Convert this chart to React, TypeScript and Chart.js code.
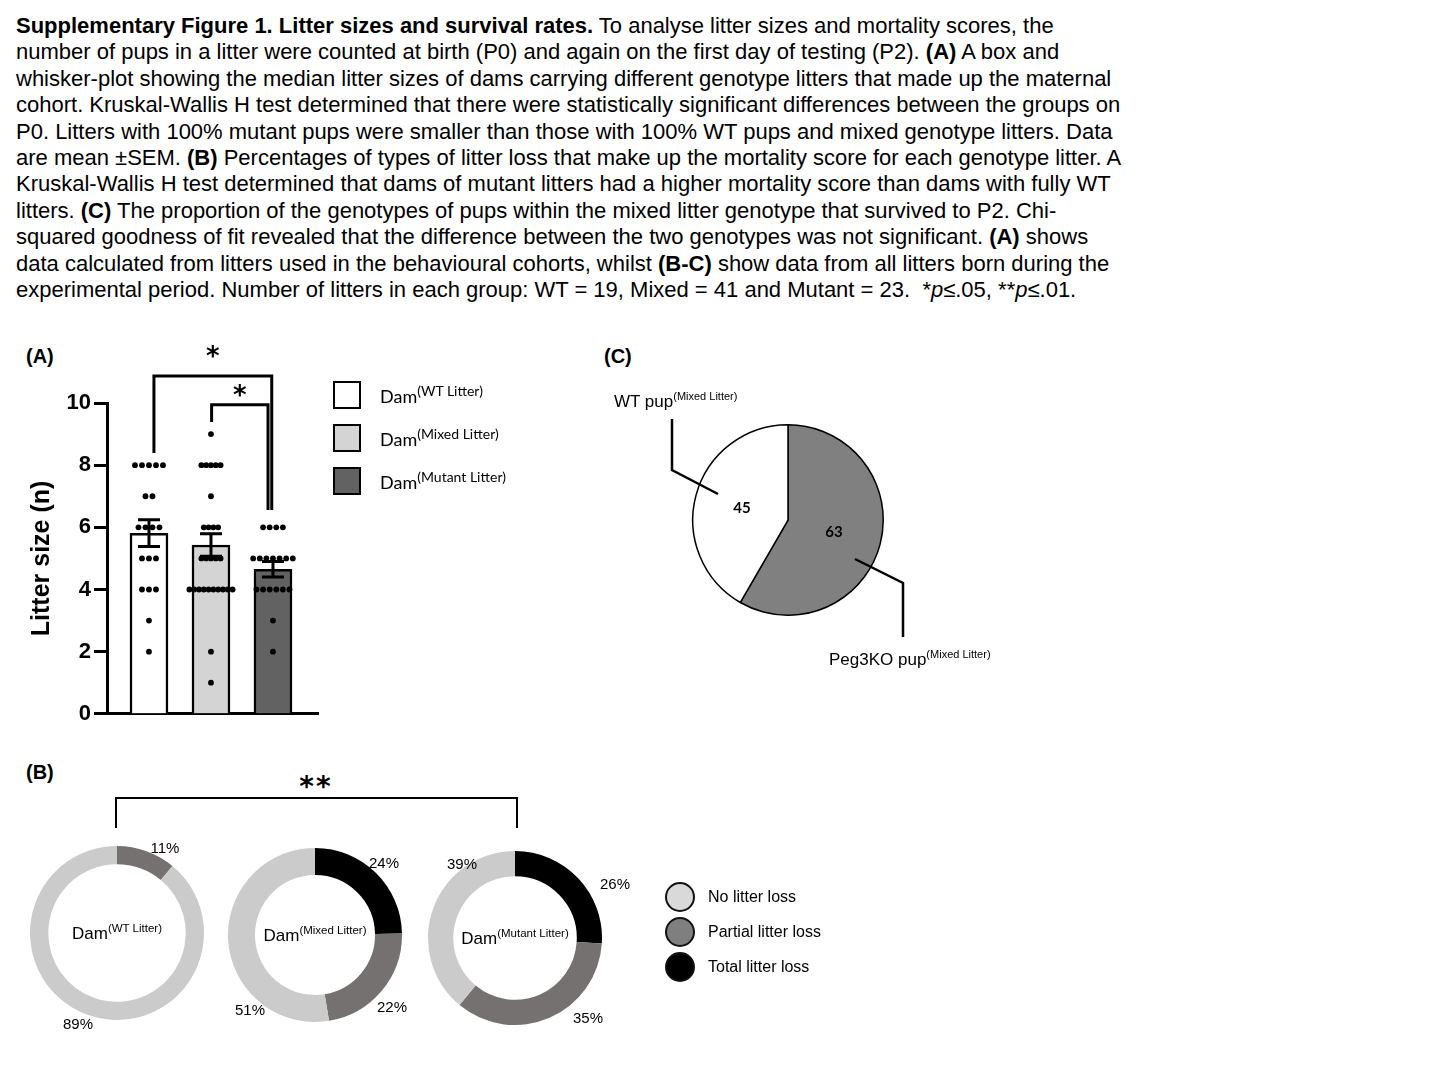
import React, { useEffect, useRef } from 'react';
import { Chart, registerables } from 'chart.js';

Chart.register(...registerables);

const SANS = '"Liberation Sans", Arial, Helvetica, sans-serif';
const CAL = 'Lato, "Open Sans", sans-serif';
const STAR = '"DejaVu Sans", sans-serif';

// ---------------- Panel A data ----------------
const groupNames = ['WT Litter', 'Mixed Litter', 'Mutant Litter'];
const groupMeans = [5.81, 5.43, 4.65];
const semLow = [5.38, 5.07, 4.4];
const semHigh = [6.24, 5.79, 4.9];
const wtLitterSizes = [8, 8, 8, 8, 8, 7, 7, 6, 6, 6, 6, 5, 5, 5, 4, 4, 4, 3, 2];
const mixedLitterSizes = [9, 8, 8, 8, 8, 8, 7, 6, 6, 6, 6, 5, 5, 5, 5, 5, 4, 4, 4, 4, 4, 4, 4, 4, 4, 4, 2, 1];
const mutantLitterSizes = [6, 6, 6, 6, 5, 5, 5, 5, 5, 5, 5, 4, 4, 4, 4, 4, 4, 3, 2];
const barColors = ['#ffffff', '#d4d4d4', '#626262'];
const yAxisTitle = 'Litter size (n)';
const yMin = 0;
const yMax = 10;
const yStep = 2;
// significance brackets (in axis units)
const bracketFrom = [0.08, 1.01];
const bracketTo = [1.98, 1.92];
const bracketTop = [10.87, 9.94];
const bracketLeftFoot = [8.39, 9.39];
const bracketRightFoot = [6.56, 6.56];
const bracketStarY = [11.7, 10.45];
const bracketLabels = ['*', '*'];

// layout for the dot rows (pixels between neighbouring dots of one row)
const dotSpacingPx = [7, 4.8, 6.6];
const xUnitPx = 62;

// ---------------- Panel B data ----------------
const lossTypes = ['Total litter loss', 'Partial litter loss', 'No litter loss'];
const lossColors = ['#000000', '#767171', '#cbcbcb'];
const legendLossOrder = [2, 1, 0];
const legendLossColors = ['#000000', '#7f7f7f', '#d9d9d9'];
const wtLoss = [0, 11, 89];
const mixedLoss = [24, 22, 51];
const mutantLoss = [26, 35, 39];

// ---------------- Panel C data ----------------
const pupGenotypes = ['Peg3KO pup', 'WT pup'];
const pupCounts = [63, 45];
const pupColors = ['#808080', '#ffffff'];

// ---------------- layout ----------------
const donutLayout = [
  { name: 'WT Litter', values: wtLoss, cx: 117, cy: 933, cutout: '79%', labelPos: [null, [165, 847], [78, 1023]] },
  { name: 'Mixed Litter', values: mixedLoss, cx: 315, cy: 935, cutout: '69%', labelPos: [[384, 862], [392, 1006], [250, 1009]] },
  { name: 'Mutant Litter', values: mutantLoss, cx: 515, cy: 938, cutout: '71%', labelPos: [[615, 883], [588, 1017], [462, 863]] },
];
const pieLeaders = [
  [[67, 39], [115, 63], [115, 117]],
  [[-70, -26], [-116, -50], [-116, -101]],
];

function spreadRow(values: number[], gi: number, spacing: number) {
  const counts: Record<string, number> = {};
  values.forEach((v) => (counts[v] = (counts[v] || 0) + 1));
  const seen: Record<string, number> = {};
  return values.map((v) => {
    const k = counts[v];
    const j = (seen[v] = seen[v] === undefined ? 0 : seen[v] + 1);
    return { x: gi + ((j - (k - 1) / 2) * spacing) / xUnitPx, y: v };
  });
}

const panelAPlugin = {
  id: 'panelAExtras',
  afterDatasetsDraw(chart: any) {
    const { ctx } = chart;
    const xs = chart.scales.x;
    const ys = chart.scales.y;
    ctx.save();
    ctx.strokeStyle = '#000';
    ctx.lineWidth = 3;
    for (let i = 0; i < groupMeans.length; i++) {
      const px = xs.getPixelForValue(i);
      const t = ys.getPixelForValue(semHigh[i]);
      const b = ys.getPixelForValue(semLow[i]);
      ctx.beginPath();
      ctx.moveTo(px, t);
      ctx.lineTo(px, b);
      ctx.moveTo(px - 11, t);
      ctx.lineTo(px + 11, t);
      ctx.moveTo(px - 11, b);
      ctx.lineTo(px + 11, b);
      ctx.stroke();
    }
    ctx.lineJoin = 'miter';
    for (let k = 0; k < bracketFrom.length; k++) {
      const x1 = xs.getPixelForValue(bracketFrom[k]);
      const x2 = xs.getPixelForValue(bracketTo[k]);
      const yt = ys.getPixelForValue(bracketTop[k]);
      ctx.beginPath();
      ctx.moveTo(x1, ys.getPixelForValue(bracketLeftFoot[k]));
      ctx.lineTo(x1, yt);
      ctx.lineTo(x2, yt);
      ctx.lineTo(x2, ys.getPixelForValue(bracketRightFoot[k]));
      ctx.stroke();
      ctx.fillStyle = '#000';
      ctx.font = `bold 26px ${STAR}`;
      ctx.textAlign = 'center';
      ctx.textBaseline = 'alphabetic';
      ctx.fillText(bracketLabels[k], (x1 + x2) / 2, ys.getPixelForValue(bracketStarY[k]) + 0.56 * 26);
    }
    ctx.restore();
  },
};

function makePanelA() {
  const groups = [wtLitterSizes, mixedLitterSizes, mutantLitterSizes];
  const scatterData = groups.flatMap((vals, gi) => spreadRow(vals, gi, dotSpacingPx[gi]));
  return {
    type: 'bar',
    data: {
      datasets: [
        {
          type: 'scatter',
          label: 'litters',
          data: scatterData,
          pointRadius: 2.9,
          pointBackgroundColor: '#000',
          pointBorderWidth: 0,
          order: 0,
        },
        {
          type: 'bar',
          label: 'mean',
          data: groupMeans.map((m, i) => ({ x: i, y: m })),
          backgroundColor: barColors,
          borderColor: '#000',
          borderWidth: 2.5,
          barThickness: 38,
          order: 1,
        },
      ],
    },
    options: {
      responsive: false,
      animation: false,
      events: [],
      layout: { padding: { top: 73, right: 22, left: 0, bottom: 0 } },
      plugins: { legend: { display: false }, tooltip: { enabled: false } },
      scales: {
        x: {
          type: 'linear',
          min: -0.677,
          max: 2.726,
          offset: false,
          ticks: { display: false },
          grid: { display: false, offset: false },
          border: { display: true, color: '#000', width: 3 },
          afterFit: (s: any) => {
            s.height = 16;
          },
        },
        y: {
          type: 'linear',
          min: yMin,
          max: yMax,
          ticks: {
            stepSize: yStep,
            color: '#000',
            padding: 3,
            font: { family: SANS, size: 22, weight: 'bold' },
          },
          grid: {
            display: true,
            drawOnChartArea: false,
            drawTicks: true,
            tickLength: 13,
            tickWidth: 3,
            tickColor: '#000',
          },
          border: { display: true, color: '#000', width: 3 },
          title: {
            display: true,
            text: yAxisTitle,
            color: '#000',
            font: { family: SANS, size: 25, weight: 'bold' },
            padding: { top: 27, bottom: 0 },
          },
          afterFit: (s: any) => {
            s.width = 107;
          },
        },
      },
    },
    plugins: [panelAPlugin],
  };
}

function makeDonut(values: number[], cutout: string) {
  return {
    type: 'doughnut',
    data: {
      labels: lossTypes,
      datasets: [{ data: values, backgroundColor: lossColors, borderWidth: 0 }],
    },
    options: {
      responsive: false,
      animation: false,
      events: [],
      cutout,
      rotation: 0,
      layout: { padding: 0 },
      plugins: { legend: { display: false }, tooltip: { enabled: false } },
    },
  };
}

const piePlugin = {
  id: 'pieExtras',
  afterDatasetsDraw(chart: any) {
    const { ctx } = chart;
    const meta = chart.getDatasetMeta(0);
    ctx.save();
    ctx.fillStyle = '#000';
    ctx.font = `bold 15px ${CAL}`;
    ctx.textAlign = 'center';
    ctx.textBaseline = 'middle';
    meta.data.forEach((arc: any, i: number) => {
      const p = arc.tooltipPosition();
      ctx.fillText(String(pupCounts[i]), p.x, p.y);
    });
    const cx = meta.data[0].x;
    const cy = meta.data[0].y;
    ctx.strokeStyle = '#000';
    ctx.lineWidth = 2.5;
    ctx.lineJoin = 'miter';
    pieLeaders.forEach((pts) => {
      ctx.beginPath();
      pts.forEach(([dx, dy], j) => (j === 0 ? ctx.moveTo(cx + dx, cy + dy) : ctx.lineTo(cx + dx, cy + dy)));
      ctx.stroke();
    });
    ctx.restore();
  },
};

function makePie() {
  return {
    type: 'pie',
    data: {
      labels: pupGenotypes,
      datasets: [{ data: pupCounts, backgroundColor: pupColors, borderColor: '#000', borderWidth: 1.5 }],
    },
    options: {
      responsive: false,
      animation: false,
      events: [],
      rotation: 0,
      layout: { padding: { left: 92, top: 44, right: 116, bottom: 64 } },
      plugins: { legend: { display: false }, tooltip: { enabled: false } },
    },
    plugins: [piePlugin],
  };
}

function ChartCanvas({ left, top, width, height, make }: any) {
  const ref = useRef<HTMLCanvasElement>(null);
  useEffect(() => {
    const chart = new Chart(ref.current as HTMLCanvasElement, make());
    return () => chart.destroy();
  }, []);
  return (
    <canvas
      ref={ref}
      width={width}
      height={height}
      style={{ position: 'absolute', left, top, width, height }}
    />
  );
}

function Sup({ base, sup, size, supSize, font }: any) {
  return (
    <span style={{ fontFamily: font, fontSize: size, whiteSpace: 'nowrap' }}>
      {base}
      <span style={{ fontSize: supSize, position: 'relative', top: -size * 0.4 }}>{sup}</span>
    </span>
  );
}

function At({ x, y, children, align = 'left', style = {} }: any) {
  const tx = align === 'center' ? '-50%' : '0';
  return (
    <div
      style={{
        position: 'absolute',
        left: x,
        top: y,
        transform: `translate(${tx}, -50%)`,
        whiteSpace: 'nowrap',
        lineHeight: 1,
        color: '#000',
        ...style,
      }}
    >
      {children}
    </div>
  );
}

const captionLines = [
  <>
    <b>Supplementary Figure 1. Litter sizes and survival rates.</b> To analyse litter sizes and mortality scores, the
  </>,
  <>
    number of pups in a litter were counted at birth (P0) and again on the first day of testing (P2). <b>(A)</b> A box and
  </>,
  <>whisker-plot showing the median litter sizes of dams carrying different genotype litters that made up the maternal</>,
  <>cohort. Kruskal-Wallis H test determined that there were statistically significant differences between the groups on</>,
  <>P0. Litters with 100% mutant pups were smaller than those with 100% WT pups and mixed genotype litters. Data</>,
  <>
    are mean ±SEM. <b>(B)</b> Percentages of types of litter loss that make up the mortality score for each genotype litter. A
  </>,
  <>Kruskal-Wallis H test determined that dams of mutant litters had a higher mortality score than dams with fully WT</>,
  <>
    litters. <b>(C)</b> The proportion of the genotypes of pups within the mixed litter genotype that survived to P2. Chi-
  </>,
  <>
    squared goodness of fit revealed that the difference between the two genotypes was not significant. <b>(A)</b> shows
  </>,
  <>
    data calculated from litters used in the behavioural cohorts, whilst <b>(B-C)</b> show data from all litters born during the
  </>,
  <>
    experimental period. Number of litters in each group: WT = 19, Mixed = 41 and Mutant = 23.{'\u00a0\u00a0'}*<i>p</i>≤.05, **<i>p</i>≤.01.
  </>,
];

const legendATops = [381, 424, 467];
const legendATextY = [396, 439, 482];
const legendBY = [897, 932, 967];

export default function App() {
  return (
    <div
      style={{
        position: 'absolute',
        left: 0,
        top: 0,
        width: 1440,
        height: 1080,
        background: '#fff',
        overflow: 'hidden',
      }}
    >
      {/* caption */}
      <div
        style={{
          position: 'absolute',
          left: 16,
          top: 13,
          fontFamily: SANS,
          fontSize: 22,
          lineHeight: '26.4px',
          color: '#000',
        }}
      >
        {captionLines.map((l, i) => (
          <div key={i} style={{ whiteSpace: 'nowrap' }}>
            {l}
          </div>
        ))}
      </div>

      {/* panel labels */}
      <At x={26} y={356} style={{ fontFamily: SANS, fontSize: 20, fontWeight: 'bold' }}>(A)</At>
      <At x={26} y={772} style={{ fontFamily: SANS, fontSize: 20, fontWeight: 'bold' }}>(B)</At>
      <At x={604} y={356} style={{ fontFamily: SANS, fontSize: 20, fontWeight: 'bold' }}>(C)</At>

      {/* Panel A */}
      <ChartCanvas left={0} top={330} width={340} height={400} make={makePanelA} />
      {groupNames.map((g, i) => (
        <React.Fragment key={g}>
          <div
            style={{
              position: 'absolute',
              left: 333,
              top: legendATops[i],
              width: 28,
              height: 28,
              boxSizing: 'border-box',
              border: '2.5px solid #000',
              background: barColors[i],
            }}
          />
          <At x={380} y={legendATextY[i]}>
            <Sup base="Dam" sup={`(${g})`} size={18} supSize={14} font={CAL} />
          </At>
        </React.Fragment>
      ))}

      {/* Panel B */}
      <div
        style={{
          position: 'absolute',
          left: 115,
          top: 797,
          width: 403,
          height: 31,
          boxSizing: 'border-box',
          borderTop: '2.5px solid #000',
          borderLeft: '2.5px solid #000',
          borderRight: '2.5px solid #000',
        }}
      />
      <div
        style={{
          position: 'absolute',
          left: 316,
          top: 773,
          transform: 'translateX(-50%)',
          fontFamily: STAR,
          fontWeight: 'bold',
          fontSize: 28,
          lineHeight: 1,
          letterSpacing: 2,
          whiteSpace: 'nowrap',
        }}
      >
        **
      </div>
      {donutLayout.map((d) => (
        <React.Fragment key={d.name}>
          <ChartCanvas
            left={d.cx - 87}
            top={d.cy - 87}
            width={174}
            height={174}
            make={() => makeDonut(d.values, d.cutout)}
          />
          <At x={d.cx} y={d.cy} align="center">
            <Sup base="Dam" sup={`(${d.name})`} size={17} supSize={11.5} font={SANS} />
          </At>
          {d.values.map((v, i) =>
            v > 0 && d.labelPos[i] ? (
              <At
                key={i}
                x={(d.labelPos[i] as number[])[0]}
                y={(d.labelPos[i] as number[])[1]}
                align="center"
                style={{ fontFamily: SANS, fontSize: 15 }}
              >
                {`${v}%`}
              </At>
            ) : null
          )}
        </React.Fragment>
      ))}
      {legendLossOrder.map((li, k) => (
        <React.Fragment key={li}>
          <div
            style={{
              position: 'absolute',
              left: 665,
              top: legendBY[k] - 15,
              width: 30,
              height: 30,
              borderRadius: '50%',
              boxSizing: 'border-box',
              border: '2px solid #111',
              background: legendLossColors[li],
            }}
          />
          <At x={708} y={legendBY[k]} style={{ fontFamily: SANS, fontSize: 16 }}>
            {lossTypes[li].charAt(0).toUpperCase() + lossTypes[li].slice(1)}
          </At>
        </React.Fragment>
      ))}

      {/* Panel C */}
      <ChartCanvas left={600} top={380} width={400} height={300} make={makePie} />
      <At x={614} y={401}>
        <Sup base={pupGenotypes[1]} sup="(Mixed Litter)" size={17} supSize={11} font={SANS} />
      </At>
      <At x={829} y={659}>
        <Sup base={pupGenotypes[0]} sup="(Mixed Litter)" size={17} supSize={11} font={SANS} />
      </At>
    </div>
  );
}
